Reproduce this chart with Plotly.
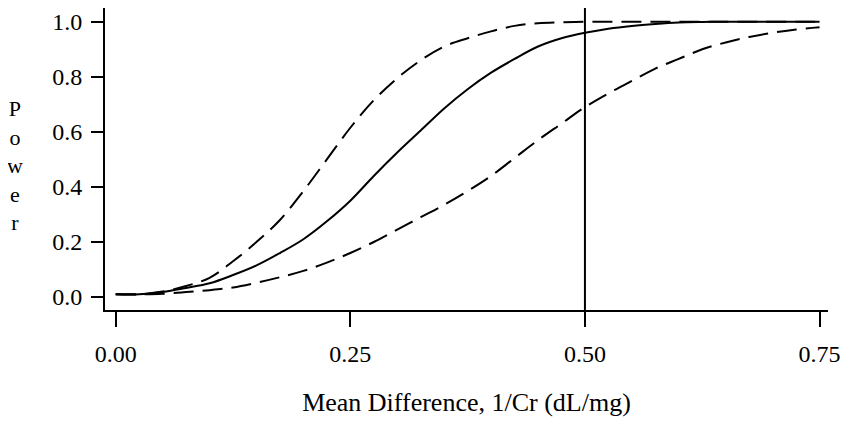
import plotly.graph_objects as go

mean_diff = [0.0, 0.025, 0.05, 0.075, 0.1, 0.125, 0.15, 0.175, 0.2, 0.225, 0.25, 0.275,
             0.3, 0.325, 0.35, 0.375, 0.4, 0.425, 0.45, 0.475, 0.5, 0.525, 0.55, 0.575,
             0.6, 0.625, 0.65, 0.675, 0.7, 0.725, 0.75]

power_upper = [0.01, 0.01, 0.02, 0.04, 0.07, 0.13, 0.20, 0.28, 0.385, 0.50, 0.615, 0.715,
               0.795, 0.86, 0.91, 0.94, 0.965, 0.985, 0.995, 0.998, 1.0, 1.0, 1.0, 1.0,
               1.0, 1.0, 1.0, 1.0, 1.0, 1.0, 1.0]

power_mid = [0.01, 0.01, 0.018, 0.033, 0.05, 0.08, 0.115, 0.16, 0.21, 0.275, 0.35, 0.44,
             0.525, 0.605, 0.685, 0.755, 0.815, 0.865, 0.91, 0.94, 0.96, 0.975, 0.985, 0.992,
             0.997, 0.999, 1.0, 1.0, 1.0, 1.0, 1.0]

power_lower = [0.01, 0.01, 0.012, 0.018, 0.025, 0.035, 0.052, 0.072, 0.095, 0.125, 0.16, 0.20,
               0.245, 0.29, 0.335, 0.385, 0.44, 0.505, 0.57, 0.63, 0.69, 0.74, 0.785, 0.83,
               0.865, 0.90, 0.925, 0.945, 0.96, 0.972, 0.98]

x_ticks = [0.0, 0.25, 0.5, 0.75]
x_tick_text = ["0.00", "0.25", "0.50", "0.75"]
y_ticks = [0.0, 0.2, 0.4, 0.6, 0.8, 1.0]
y_tick_text = ["0.0", "0.2", "0.4", "0.6", "0.8", "1.0"]
ref_x = 0.5

FONT = "Liberation Serif, Times New Roman, serif"
DASH = "20px,9px"

fig = go.Figure()
fig.add_trace(go.Scatter(x=mean_diff, y=power_upper, mode="lines",
                         line=dict(color="black", width=2, dash=DASH, shape="spline"),
                         showlegend=False))
fig.add_trace(go.Scatter(x=mean_diff, y=power_mid, mode="lines",
                         line=dict(color="black", width=2, shape="spline"),
                         showlegend=False))
fig.add_trace(go.Scatter(x=mean_diff, y=power_lower, mode="lines",
                         line=dict(color="black", width=2, dash=DASH, shape="spline"),
                         showlegend=False))

fig.add_shape(type="line", xref="x", yref="paper", x0=ref_x, x1=ref_x, y0=0, y1=1,
              line=dict(color="black", width=2))

fig.add_annotation(text="P<br>o<br>w<br>e<br>r", xref="paper", yref="paper",
                   x=-0.1245, y=0.477, xanchor="center", yanchor="middle",
                   showarrow=False, align="center",
                   font=dict(family=FONT, size=22, color="black"))

fig.update_layout(
    width=841, height=420,
    margin=dict(l=97, r=21, t=0, b=118),
    plot_bgcolor="white", paper_bgcolor="white",
    font=dict(family=FONT, size=24, color="black"),
    xaxis=dict(range=[-0.0114, 0.759], tickvals=x_ticks, ticktext=x_tick_text,
               ticks="outside", ticklen=15, tickwidth=2, tickcolor="black",
               showline=True, linecolor="black", linewidth=2, showgrid=False,
               zeroline=False, ticklabelstandoff=6,
               tickfont=dict(family=FONT, size=24),
               title=dict(text="Mean Difference, 1/Cr (dL/mg)", standoff=27,
                          font=dict(family=FONT, size=26))),
    yaxis=dict(range=[-0.047, 1.05], tickvals=y_ticks, ticktext=y_tick_text,
               ticks="outside", ticklen=12, tickwidth=2, tickcolor="black",
               showline=True, linecolor="black", linewidth=2, showgrid=False,
               zeroline=False, ticklabelstandoff=4,
               tickfont=dict(family=FONT, size=24)),
)

fig.write_html("out.html")
